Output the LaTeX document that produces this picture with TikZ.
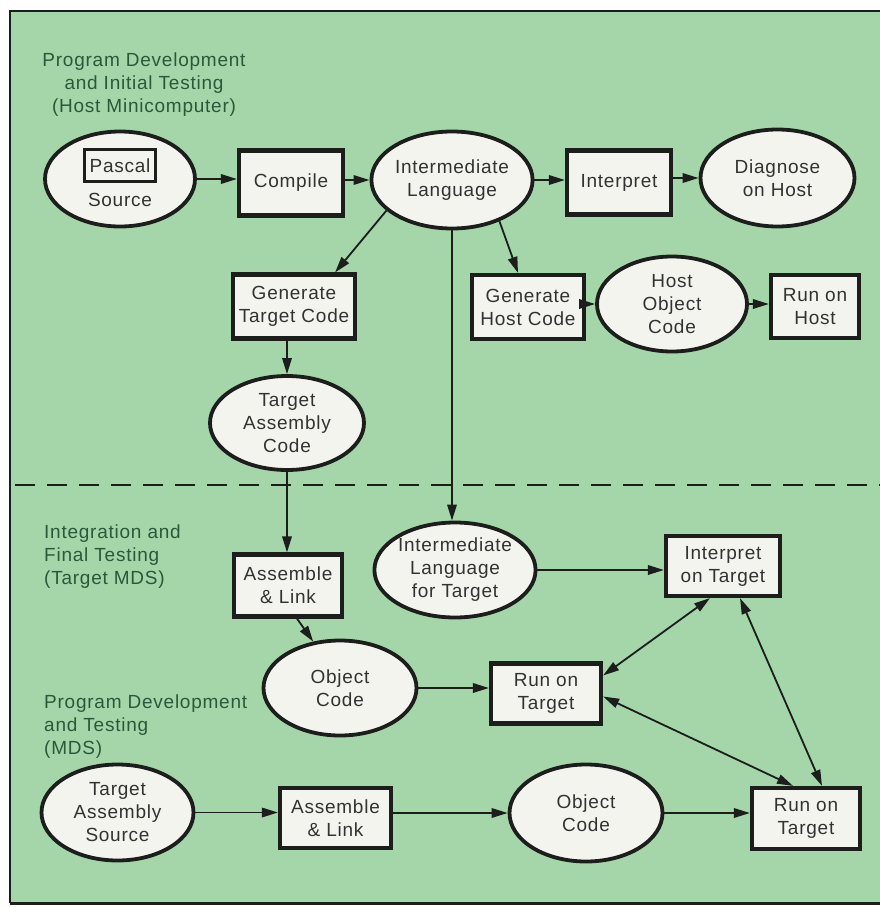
\documentclass[tikz,border=0pt]{standalone}
\usepackage{fontspec}
\setmainfont{Liberation Sans}[LetterSpace=4]
\usetikzlibrary{shapes.geometric,arrows.meta}
\definecolor{bggreen}{RGB}{164,214,170}
\definecolor{nodefill}{RGB}{244,244,238}
\definecolor{txtgray}{RGB}{50,50,50}
\definecolor{lblgreen}{RGB}{44,88,58}
\definecolor{edgecol}{RGB}{28,30,28}
\begin{document}
\begin{tikzpicture}[x=1pt,y=-1pt,
  font=\fontsize{19}{23}\selectfont,
  base/.style={draw=edgecol,fill=nodefill,text=txtgray,inner sep=0pt,align=center},
  oval/.style={base,ellipse,line width=3.8pt},
  boxx/.style={base,rectangle,line width=4.2pt},
  lbl/.style={text=lblgreen,inner sep=0pt},
  conn/.style={draw=edgecol,line width=1.8pt,-{Triangle[length=16pt,width=9.5pt]}},
  biconn/.style={draw=edgecol,line width=1.8pt,{Triangle[length=16pt,width=9.5pt]}-{Triangle[length=16pt,width=9.5pt]}},
  sz/.style 2 args={minimum width=#1pt,minimum height=#2pt}]
\useasboundingbox (0,0) rectangle (880,907);
\fill[white] (0,0) rectangle (880,907);
\fill[bggreen] (10,11) rectangle (885,903);
\draw[edgecol,line width=1.8pt] (880,11) -- (10,11) -- (10,903);
\draw[edgecol,line width=3pt] (10,903) -- (880,903);

% section labels
\node[lbl,align=center] (lab1) at (144,85) {Program Development\\and Initial Testing\\(Host Minicomputer)};
\node[lbl,align=left,anchor=west] (lab2) at (44,557) {Integration and\\Final Testing\\(Target MDS)};
\node[lbl,align=left,anchor=west] (lab3) at (44,727) {Program Development\\and Testing\\(MDS)};

% dashed separator
\coordinate (dl) at (15,485);
\coordinate (dr) at (880,485);
\draw[edgecol,line width=1.8pt,dash pattern=on 20pt off 12pt] (dl) -- (dr);

% top row
\node[oval,sz={150}{95}] (src) at (120,179) {};
\node[boxx,sz={71}{32},line width=3.4pt] (pascal) at (120,165.5) {Pascal};
\node[text=txtgray,inner sep=0pt] (source) at (120,200) {Source};
\node[boxx,sz={104}{65}] (compile) at (291,183) {Compile};
\node[oval,sz={150}{97}] (il) at (452,180) {Intermediate\\Language};
\node[boxx,sz={104}{64}] (interp) at (619,182.5) {Interpret};
\node[oval,sz={154}{97}] (diag) at (777.5,178) {Diagnose\\on Host};

% second row
\node[boxx,sz={122}{64}] (gtc) at (294,306.5) {Generate\\Target Code};
\node[boxx,sz={112}{64}] (ghc) at (528,307) {Generate\\Host Code};
\node[oval,sz={150}{95}] (hoc) at (672,304) {Host\\Object\\Code};
\node[boxx,sz={88}{63}] (roh) at (815,306.5) {Run on\\Host};

\node[oval,sz={154}{94}] (tac) at (287,423) {Target\\Assembly\\Code};

% integration section
\node[boxx,sz={108}{62}] (al1) at (288,585.5) {Assemble\\\& Link};
\node[oval,sz={153}{95}] (ilt) at (455,570) {Intermediate\\Language\\for Target};
\node[boxx,sz={114}{60}] (iot) at (723,566) {Interpret\\on Target};
\node[oval,sz={153}{95}] (oc1) at (340,688) {Object\\Code};
\node[boxx,sz={110}{60}] (rot1) at (546,693.5) {Run on\\Target};

% MDS section
\node[oval,sz={152}{96}] (tas) at (117.5,812.5) {Target\\Assembly\\Source};
\node[boxx,sz={111}{60}] (al2) at (335.5,818) {Assemble\\\& Link};
\node[oval,sz={153}{97}] (oc2) at (586,813) {Object\\Code};
\node[boxx,sz={108}{61}] (rot2) at (806,818.5) {Run on\\Target};

% connectors
\draw[conn] (src.east) -- (src.east -| compile.west);
\draw[conn] (compile.east |- il.west) -- (il.west);
\draw[conn] (il.east) -- (il.east -| interp.west);
\draw[conn] (interp.east |- diag.west) -- (diag.west);
\draw[conn] (il.205) -- ([xshift=-22pt]gtc.north east);
\draw[conn] (il.319) -- ([xshift=-10pt]ghc.north);
\draw[conn] (ghc.east |- hoc.west) -- (hoc.west);
\draw[conn] (hoc.east) -- (hoc.east -| roh.west);
\draw[conn] (tac.north |- gtc.south) -- (tac.north);
\draw[conn] (tac.south) -- (tac.south |- al1.north);
\draw[conn] ([xshift=9pt]al1.south) -- (oc1.120);
\draw[conn] (il.south) -- (il.south |- ilt.north);
\draw[conn] (ilt.east) -- (ilt.east -| iot.west);
\draw[conn] (oc1.east) -- (oc1.east -| rot1.west);
\draw[biconn] ([yshift=18pt]rot1.east) -- ([xshift=-13pt]iot.south);
\draw[biconn] ([yshift=-3pt]rot1.east) -- ([xshift=-13pt]rot2.north);
\draw[biconn] ([xshift=17pt]iot.south) -- ([xshift=16pt]rot2.north);
\draw[conn] (tas.east) -- (tas.east -| al2.west);
\draw[conn] (al2.east |- oc2.west) -- (oc2.west);
\draw[conn] (oc2.east) -- (oc2.east -| rot2.west);
\end{tikzpicture}
\end{document}
